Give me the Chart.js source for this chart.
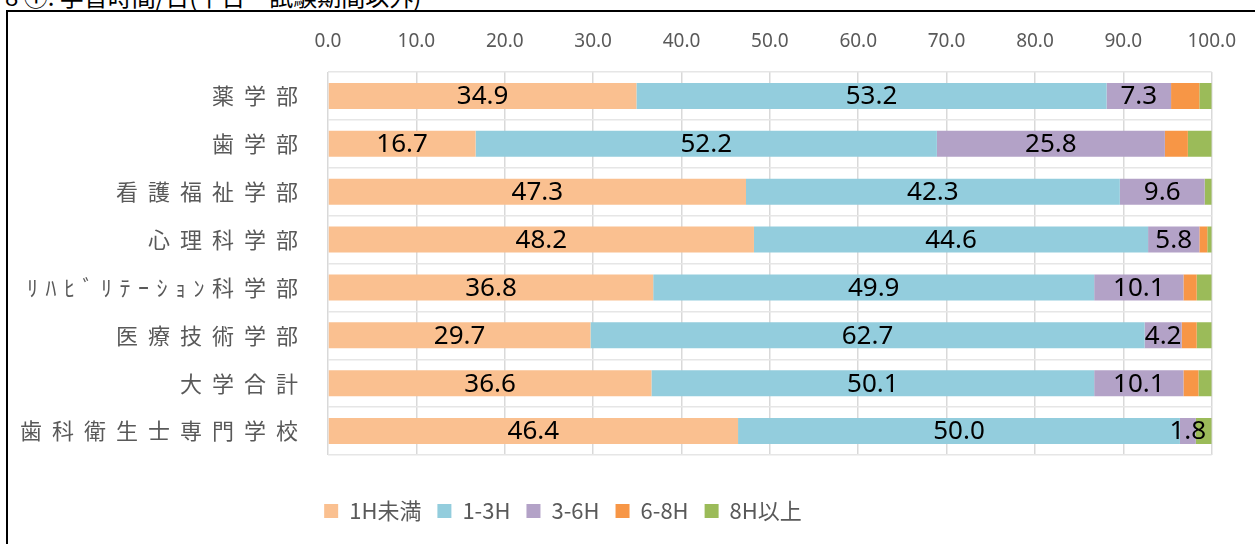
<!DOCTYPE html>
<html>
<head>
<meta charset="utf-8">
<script src="https://cdn.jsdelivr.net/npm/chart.js@4/dist/chart.umd.min.js"></script>
<style>
  body { margin: 0; background: #fff; overflow: hidden; width: 1255px; height: 544px; position: relative; }
  #title { position: absolute; left: 5px; top: -16px; font: 24px/24px "Noto Sans CJK JP"; color: #000; white-space: nowrap; }
  #frame { position: absolute; left: 6px; top: 10px; width: 1300px; height: 600px; border-left: 2px solid #000; border-top: 2px solid #000; }
  #wrap { position: absolute; left: 8px; top: 12px; width: 1247px; height: 532px; }
</style>
</head>
<body>
<div id="title">8 ①. 学習時間/日(平日・試験期間以外)</div>
<div id="frame"></div>
<div id="wrap"><canvas id="chart"></canvas></div>
<script>
const categories = [
  "薬学部",
  "歯学部",
  "看護福祉学部",
  "心理科学部",
  "ﾘﾊﾋﾞﾘﾃｰｼｮﾝ科学部",
  "医療技術学部",
  "大学合計",
  "歯科衛生士専門学校",
];
const seriesNames = ["1H未満", "1-3H", "3-6H", "6-8H", "8H以上"];
const under1h = [34.9, 16.7, 47.3, 48.2, 36.8, 29.7, 36.6, 46.4];
const h1to3 = [53.2, 52.2, 42.3, 44.6, 49.9, 62.7, 50.1, 50.0];
const h3to6 = [7.3, 25.8, 9.6, 5.8, 10.1, 4.2, 10.1, 1.8];
const h6to8 = [3.2, 2.6, 0.0, 0.9, 1.5, 1.7, 1.7, 0.0];
const over8h = [1.4, 2.7, 0.8, 0.5, 1.7, 1.7, 1.5, 1.8];
const xTicks = [0, 10, 20, 30, 40, 50, 60, 70, 80, 90, 100];

const colors = ["#FAC090", "#93CDDD", "#B3A2C7", "#F79646", "#9BBB59"];
const values = [under1h, h1to3, h3to6, h6to8, over8h];
const labelledSeries = 3; // only the first three series carry numbers

// category labels with Excel-like letter spacing
const yLabels = {
  id: "yLabels",
  afterDraw(chart) {
    const ctx = chart.ctx;
    const y = chart.scales.y;
    ctx.save();
    ctx.font = '22px "Noto Sans CJK JP"';
    ctx.fillStyle = "#595959";
    ctx.textBaseline = "middle";
    ctx.textAlign = "left";
    const gap = (ch) => (/[\uFF61-\uFF9F]/.test(ch) ? 7.5 : 10);
    categories.forEach((label, i) => {
      const chars = [...label];
      let w = 0;
      chars.forEach((ch, k) => {
        w += ctx.measureText(ch).width + (k < chars.length - 1 ? gap(ch) : 0);
      });
      let x = 290 - w;
      const py = y.getPixelForValue(i);
      chars.forEach((ch) => {
        ctx.fillText(ch, x, py);
        x += ctx.measureText(ch).width + gap(ch);
      });
    });
    ctx.restore();
  },
};

const barLabels = {
  id: "barLabels",
  afterDatasetsDraw(chart) {
    const ctx = chart.ctx;
    ctx.save();
    ctx.font = '26px "Noto Sans"';
    ctx.fillStyle = "#000";
    ctx.textAlign = "center";
    ctx.textBaseline = "middle";
    for (let d = 0; d < labelledSeries; d++) {
      chart.getDatasetMeta(d).data.forEach((bar, i) => {
        const p = bar.getProps(["x", "y", "base"], true);
        ctx.fillText(values[d][i].toFixed(1), (p.x + p.base) / 2, p.y + 1);
      });
    }
    ctx.restore();
  },
};

// legend sits left of centre in the original
const legendShift = {
  id: "legendShift",
  afterLayout(chart) {
    const lg = chart.legend;
    const shift = 555 - (lg.left + lg.right) / 2;
    lg.left += shift;
    lg.right += shift;
  },
};

new Chart(document.getElementById("chart"), {
  type: "bar",
  data: {
    labels: categories,
    datasets: seriesNames.map((name, i) => ({
      label: name,
      data: values[i],
      backgroundColor: colors[i],
      borderWidth: 0,
      barPercentage: 0.545,
      categoryPercentage: 1,
    })),
  },
  options: {
    indexAxis: "y",
    responsive: true,
    maintainAspectRatio: false,
    animation: false,
    layout: { padding: { left: 0, right: 43, top: 0, bottom: 12 } },
    scales: {
      x: {
        position: "top",
        stacked: true,
        min: 0,
        max: 100,
        afterBuildTicks: (s) => {
          s.ticks = xTicks.map((v) => ({ value: v }));
        },
        afterFit: (s) => {
          s.height = 60;
        },
        grid: { color: "#d9d9d9", lineWidth: 1.5, drawTicks: false },
        border: { display: false },
        ticks: {
          padding: 19,
          color: "#595959",
          font: { family: "Noto Sans", size: 19 },
          callback: (v) => Number(v).toFixed(1),
        },
      },
      gap: {
        type: "linear",
        axis: "x",
        position: "bottom",
        grid: { display: false },
        border: { display: false },
        ticks: { display: false },
        afterFit: (s) => {
          s.height = 29;
        },
      },
      y: {
        stacked: true,
        afterFit: (s) => {
          s.width = 320;
        },
        grid: { color: "#e6e6e6", lineWidth: 1.5, drawTicks: false },
        border: { display: false },
        ticks: { display: false },
      },
    },
    plugins: {
      legend: {
        position: "bottom",
        labels: {
          boxWidth: 14,
          boxHeight: 14,
          padding: 16,
          color: "#595959",
          font: { family: "Noto Sans CJK JP", size: 22 },
        },
      },
      tooltip: { enabled: false },
    },
  },
  plugins: [yLabels, barLabels, legendShift],
});
</script>
</body>
</html>
